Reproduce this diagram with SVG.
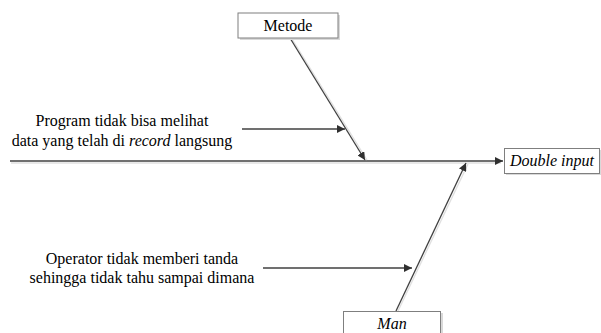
<svg xmlns="http://www.w3.org/2000/svg" width="601" height="333" viewBox="0 0 601 333">
<style>
text{font-family:'Liberation Serif','Times New Roman',Times,serif;font-size:16px;fill:#000}
.i{font-style:italic}
.box{fill:#fff;stroke:#7f7f7f;stroke-width:1}
.sh{fill:#d9d9d9}
.ln{stroke:#404040;stroke-width:1.3;fill:none}
.lsh{stroke:#e0e0e0;stroke-width:1.3;fill:none}
</style>
<defs>
<marker id="ah" viewBox="0 0 10 10" refX="10" refY="5" markerWidth="8" markerHeight="8" markerUnits="userSpaceOnUse" orient="auto">
<path d="M0,0 L10,5 L0,10 z" fill="#303030"/>
</marker>
</defs>
<g id="connectors">
<line class="lsh" x1="11" y1="163" x2="501" y2="163"/>
<line class="ln" x1="10" y1="161" x2="503" y2="161" marker-end="url(#ah)"/>
<line class="lsh" x1="292" y1="39" x2="367" y2="160"/>
<line class="ln" x1="290" y1="38" x2="365" y2="160" marker-end="url(#ah)"/>
<line class="lsh" x1="398" y1="311" x2="468" y2="164"/>
<line class="ln" x1="396" y1="311" x2="466" y2="163" marker-end="url(#ah)"/>
<line class="ln" x1="242" y1="129" x2="345" y2="129" marker-end="url(#ah)"/>
<line class="ln" x1="263" y1="268" x2="412" y2="268" marker-end="url(#ah)"/>
</g>
<g id="metode">
<rect class="sh" x="240" y="15" width="100" height="25"/>
<rect class="box" x="238" y="13" width="100" height="25"/>
<text x="288" y="31" text-anchor="middle" font-family="Liberation Serif, serif">Metode</text>
</g>
<g id="double-input">
<rect class="sh" x="506" y="150" width="96" height="25"/>
<rect class="box" x="504.5" y="148.5" width="95" height="25"/>
<text class="i" x="552" y="166" text-anchor="middle" font-family="Liberation Serif, serif">Double input</text>
</g>
<g id="man">
<rect class="sh" x="345" y="313" width="98" height="25"/>
<rect class="box" x="343.5" y="311.5" width="97" height="25"/>
<text class="i" x="392" y="329" text-anchor="middle" font-family="Liberation Serif, serif">Man</text>
</g>
<g id="cause-metode">
<text x="122" y="126" text-anchor="middle" font-family="Liberation Serif, serif">Program tidak bisa melihat</text>
<text x="122" y="146" text-anchor="middle" font-family="Liberation Serif, serif">data yang telah di <tspan class="i">record</tspan> langsung</text>
</g>
<g id="cause-man">
<text x="142" y="264" text-anchor="middle" font-family="Liberation Serif, serif">Operator tidak memberi tanda</text>
<text x="142" y="283" text-anchor="middle" font-family="Liberation Serif, serif">sehingga tidak tahu sampai dimana</text>
</g>
</svg>
